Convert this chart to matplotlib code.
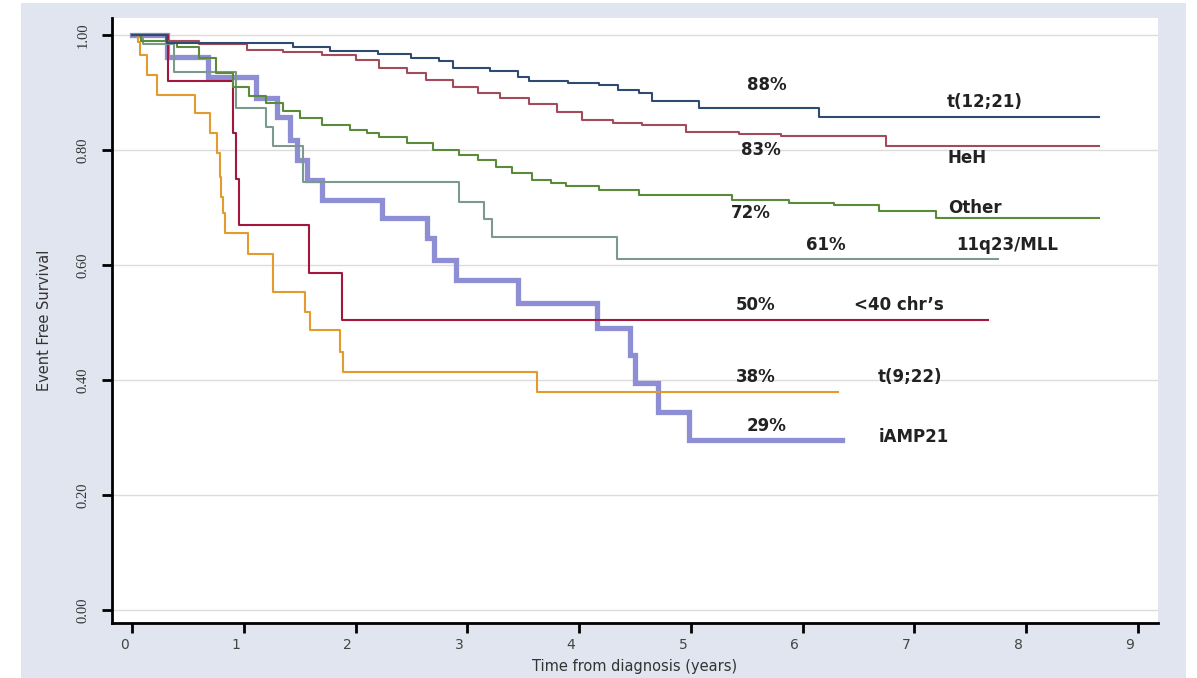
import matplotlib
matplotlib.use("Agg")
import matplotlib.pyplot as plt
from matplotlib.transforms import ScaledTranslation

# ---------------- data ----------------
t1221_t = [0, 0.31, 1.44, 1.77, 2.2, 2.5, 2.75, 2.87, 3.2, 3.45, 3.55, 3.9, 4.18, 4.35, 4.54, 4.65, 5.07, 6.15, 8.65]
t1221_s = [1.0, 0.986, 0.979, 0.972, 0.967, 0.960, 0.955, 0.943, 0.937, 0.927, 0.920, 0.917, 0.913, 0.905, 0.899, 0.885, 0.874, 0.858, 0.858]

heh_t = [0, 0.3, 0.6, 1.03, 1.35, 1.7, 2.0, 2.21, 2.46, 2.63, 2.87, 3.1, 3.29, 3.55, 3.8, 4.03, 4.3, 4.56, 4.96, 5.43, 5.81, 6.75, 8.65]
heh_s = [1.0, 0.99, 0.985, 0.975, 0.970, 0.965, 0.957, 0.943, 0.934, 0.922, 0.910, 0.900, 0.890, 0.880, 0.866, 0.852, 0.848, 0.843, 0.831, 0.828, 0.824, 0.807, 0.807]

other_t = [0, 0.08, 0.4, 0.6, 0.75, 0.9, 1.05, 1.2, 1.35, 1.5, 1.7, 1.95, 2.1, 2.21, 2.46, 2.69, 2.93, 3.1, 3.26, 3.4, 3.58, 3.75, 3.88, 4.18, 4.54, 5.37, 5.88, 6.28, 6.68, 7.19, 8.65]
other_s = [1.0, 0.99, 0.98, 0.96, 0.935, 0.91, 0.895, 0.882, 0.868, 0.856, 0.843, 0.835, 0.829, 0.823, 0.812, 0.80, 0.791, 0.783, 0.77, 0.76, 0.748, 0.742, 0.737, 0.730, 0.722, 0.713, 0.708, 0.704, 0.694, 0.682, 0.682]

mll_t = [0, 0.1, 0.38, 0.93, 1.2, 1.26, 1.53, 2.93, 3.15, 3.22, 4.34, 7.75]
mll_s = [1.0, 0.985, 0.936, 0.873, 0.84, 0.807, 0.744, 0.71, 0.68, 0.649, 0.61, 0.61]

lt40_t = [0, 0.32, 0.9, 0.93, 0.96, 1.58, 1.88, 7.66]
lt40_s = [1.0, 0.92, 0.83, 0.75, 0.67, 0.586, 0.504, 0.504]

t922_t = [0, 0.05, 0.07, 0.13, 0.22, 0.56, 0.70, 0.76, 0.79, 0.80, 0.81, 0.83, 1.04, 1.26, 1.55, 1.59, 1.86, 1.89, 3.62, 6.32]
t922_s = [1.0, 0.988, 0.965, 0.93, 0.896, 0.864, 0.83, 0.795, 0.753, 0.718, 0.69, 0.656, 0.62, 0.553, 0.518, 0.487, 0.449, 0.414, 0.379, 0.379]

iamp_t = [0, 0.31, 0.68, 1.11, 1.3, 1.41, 1.48, 1.57, 1.7, 2.24, 2.64, 2.7, 2.9, 3.45, 4.16, 4.46, 4.5, 4.71, 4.98, 6.35]
iamp_s = [1.0, 0.962, 0.927, 0.89, 0.858, 0.817, 0.783, 0.748, 0.713, 0.682, 0.647, 0.609, 0.574, 0.534, 0.49, 0.443, 0.395, 0.344, 0.296, 0.296]

pct_labels = ["88%", "83%", "72%", "61%", "50%", "38%", "29%"]
pct_pos = [(5.68, 0.913), (5.63, 0.80), (5.54, 0.69), (6.21, 0.635), (5.58, 0.53), (5.58, 0.405), (5.68, 0.32)]
group_labels = ["t(12;21)", "HeH", "Other", "11q23/MLL", "<40 chr\u2019s", "t(9;22)", "iAMP21"]
group_pos = [(7.29, 0.883), (7.30, 0.786), (7.30, 0.70), (7.37, 0.635), (6.46, 0.53), (6.67, 0.405), (6.68, 0.30)]

x_ticks = [0, 1, 2, 3, 4, 5, 6, 7, 8, 9]
y_ticks = [0.0, 0.2, 0.4, 0.6, 0.8, 1.0]
y_ticklabels = ["0.00", "0.20", "0.40", "0.60", "0.80", "1.00"]

# ---------------- figure ----------------
W, H = 1197, 678
fig = plt.figure(figsize=(W / 100, H / 100), dpi=100)
fig.patch.set_facecolor("white")

bg = fig.add_axes([21 / W, 0, (1186 - 21) / W, 1 - 3 / H], zorder=-5)
bg.set_facecolor("#E0E5EF")
bg.set_xticks([])
bg.set_yticks([])
for sp in bg.spines.values():
    sp.set_visible(False)

ax = fig.add_axes([112 / W, 1 - 623 / H, (1158 - 112) / W, (623 - 18) / H], zorder=1)
ax.set_facecolor("white")
ax.set_xlim(-0.179, 9.18)
ax.set_ylim(-0.023, 1.03)

for y in y_ticks:
    ax.axhline(y, color="#DCDCDC", lw=1.0, zorder=1)

ax.plot(iamp_t, iamp_s, drawstyle="steps-post", color="#8E8ED4", lw=3.8, zorder=2,
        solid_joinstyle="miter")
ax.plot(t922_t, t922_s, drawstyle="steps-post", color="#E39A2E", lw=1.5, zorder=3)
ax.plot(lt40_t, lt40_s, drawstyle="steps-post", color="#A3173E", lw=1.5, zorder=3)
ax.plot(mll_t, mll_s, drawstyle="steps-post", color="#7C9A8C", lw=1.5, zorder=3)
ax.plot(other_t, other_s, drawstyle="steps-post", color="#5B8A3A", lw=1.5, zorder=3)
ax.plot(heh_t, heh_s, drawstyle="steps-post", color="#A34B5B", lw=1.5, zorder=3)
ax.plot(t1221_t, t1221_s, drawstyle="steps-post", color="#2F4B70", lw=1.5, zorder=3)

for txt, (x, y) in zip(pct_labels, pct_pos):
    ax.text(x, y, txt, ha="center", va="center", fontsize=12, fontweight="bold",
            family="DejaVu Sans", color="#222222", zorder=5)
for txt, (x, y) in zip(group_labels, group_pos):
    ax.text(x, y, txt, ha="left", va="center", fontsize=12, fontweight="bold",
            family="DejaVu Sans", color="#222222", zorder=5)

for side in ["top", "right"]:
    ax.spines[side].set_visible(False)
for side in ["left", "bottom"]:
    ax.spines[side].set_linewidth(2.0)
    ax.spines[side].set_color("black")

ax.set_xticks(x_ticks)
ax.set_xticklabels([str(v) for v in x_ticks], family="DejaVu Sans", fontsize=10, color="#444444")
ax.set_yticks(y_ticks)
ax.set_yticklabels(y_ticklabels, family="Liberation Serif", fontsize=10.5, color="#333333",
                   rotation=90, va="center")
ax.tick_params(axis="both", length=7, width=2.0, color="black")
ax.tick_params(axis="x", pad=4)
ax.tick_params(axis="y", pad=9)

offset = ScaledTranslation(-8 / 100, 0, fig.dpi_scale_trans)
for lab in ax.get_xticklabels():
    lab.set_transform(lab.get_transform() + offset)

ax.set_xlabel("Time from diagnosis (years)", family="DejaVu Sans", fontsize=10.5, color="#333333")
ax.xaxis.set_label_coords(0.5, -0.060)
ax.set_ylabel("Event Free Survival", family="DejaVu Sans", fontsize=10.5, color="#333333",
              labelpad=18)

fig.savefig("out.png", dpi=100, facecolor=fig.get_facecolor())
